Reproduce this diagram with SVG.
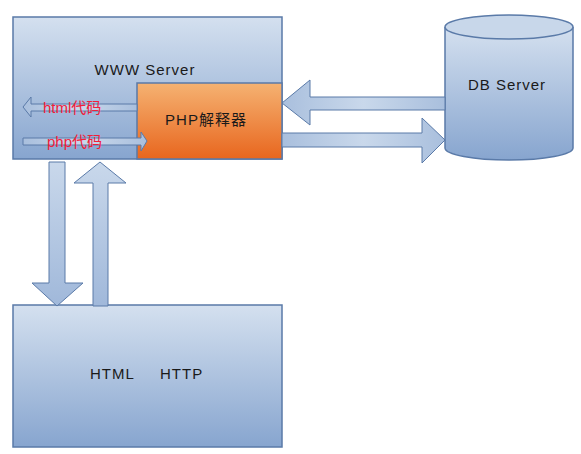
<svg xmlns="http://www.w3.org/2000/svg" width="581" height="454" viewBox="0 0 581 454">
<defs>
<linearGradient id="gb" x1="0" y1="0" x2="0" y2="1"><stop offset="0" stop-color="#d4e0ef"/><stop offset="1" stop-color="#87a5cf"/></linearGradient>
<linearGradient id="go" x1="0" y1="0" x2="0" y2="1"><stop offset="0" stop-color="#f5b272"/><stop offset="1" stop-color="#e8661e"/></linearGradient>
<linearGradient id="ga" x1="0" y1="0" x2="1" y2="0"><stop offset="0" stop-color="#a9bfdd"/><stop offset="0.5" stop-color="#c9d8eb"/><stop offset="1" stop-color="#a9bfdd"/></linearGradient>
<linearGradient id="gav" x1="0" y1="0" x2="0" y2="1"><stop offset="0" stop-color="#c9d8eb"/><stop offset="1" stop-color="#a0b8da"/></linearGradient>
</defs>
<style>
.box{fill:url(#gb);stroke:#5a7aa8;stroke-width:1.5}
.arr{fill:url(#ga);stroke:#5a7aa8;stroke-width:1}
.arrh{fill:url(#gav);stroke:#5a7aa8;stroke-width:1}
.t{font-family:"Liberation Sans",Arial,"Noto Sans CJK SC",sans-serif;font-size:15px;fill:#1a1a1a;letter-spacing:1px}
.r{font-family:"Liberation Sans",Arial,"Noto Sans CJK SC",sans-serif;font-size:15px;fill:#f0203a}
</style>
<rect width="581" height="454" fill="#ffffff"/>
<g id="www-server">
<rect class="box" x="13" y="17" width="269" height="142"/>
<text class="t" x="145" y="75" text-anchor="middle" letter-spacing="2">WWW Server</text>
</g>
<g id="php">
<rect x="137" y="83" width="145" height="76" fill="url(#go)" stroke="#5a7aa8" stroke-width="1.5"/>
<text class="t" x="206" y="125" text-anchor="middle">PHP解释器</text>
</g>
<g id="db-server">
<path d="M445,27 L445,148 A64,12 0 0 0 573,148 L573,27" fill="url(#gb)" stroke="#5a7aa8" stroke-width="1.5"/>
<ellipse cx="509" cy="27" rx="64" ry="12" fill="#c8d7ea" stroke="#5a7aa8" stroke-width="1.5"/>
<text class="t" x="507" y="90" text-anchor="middle">DB Server</text>
</g>
<g id="client">
<rect class="box" x="13" y="305" width="269" height="142"/>
<text class="t" x="90" y="379">HTML</text>
<text class="t" x="160" y="379">HTTP</text>
</g>
<g id="connectors">
<polygon class="arr" points="137,104 31,104 31,97 23,107 31,117 31,111 137,111"/>
<polygon class="arr" points="23,138 141,138 141,132 147,141 141,151 141,145 23,145"/>
<polygon class="arr" points="445,97 310,97 310,80 282,103 310,125 310,110 445,110"/>
<polygon class="arr" points="282,133 422,133 422,118 445,140 422,163 422,147 282,147"/>
<polygon class="arrh" points="49,162 65,162 65,283 83,283 57,306 32,283 49,283"/>
<polygon class="arrh" points="93,306 108,306 108,183 126,183 100,162 74,183 93,183"/>
<text class="r" x="43" y="113">html代码</text>
<text class="r" x="47" y="147">php代码</text>
</g>
</svg>
